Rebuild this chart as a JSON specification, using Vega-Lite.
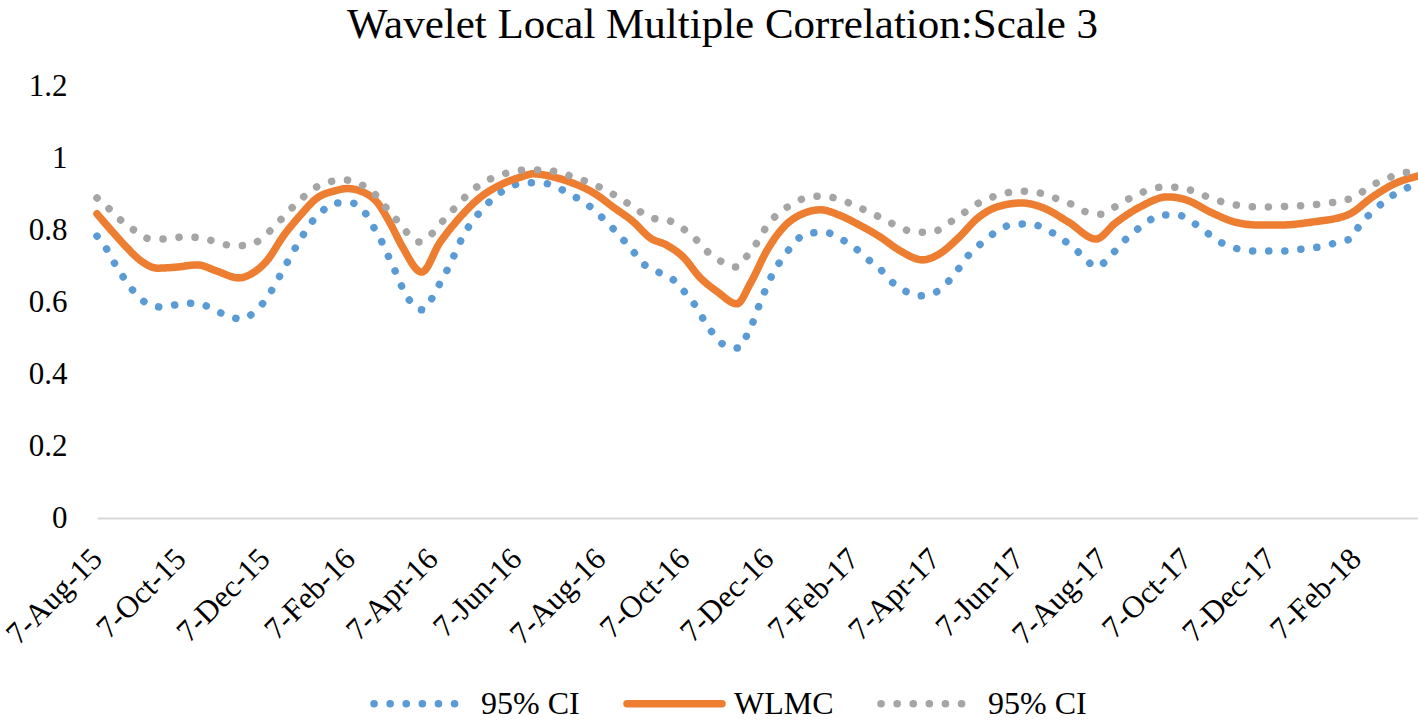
{
  "$schema": "https://vega.github.io/schema/vega-lite/v6.json",
  "autosize": {"type": "none"},
  "padding": {"left": 97, "top": 86, "right": 0, "bottom": 203},
  "width": 1321,
  "height": 432,
  "background": "white",
  "config": {
    "view": {"stroke": null},
    "font": "Liberation Serif"
  },
  "title": {
    "text": "Wavelet Local Multiple Correlation:Scale 3",
    "font": "Liberation Serif",
    "fontSize": 43,
    "fontWeight": "normal",
    "color": "#000000",
    "anchor": "middle",
    "baseline": "alphabetic",
    "offset": -11,
    "dx": -35
  },
  "data": {
    "values": [
      {"date": "2015-08-07", "series": "lower", "value": 0.783},
      {"date": "2015-08-14", "series": "lower", "value": 0.747},
      {"date": "2015-08-20", "series": "lower", "value": 0.706},
      {"date": "2015-08-27", "series": "lower", "value": 0.664},
      {"date": "2015-09-03", "series": "lower", "value": 0.628},
      {"date": "2015-09-12", "series": "lower", "value": 0.597},
      {"date": "2015-09-23", "series": "lower", "value": 0.586},
      {"date": "2015-10-06", "series": "lower", "value": 0.594},
      {"date": "2015-10-18", "series": "lower", "value": 0.597},
      {"date": "2015-10-29", "series": "lower", "value": 0.583},
      {"date": "2015-11-10", "series": "lower", "value": 0.561},
      {"date": "2015-11-20", "series": "lower", "value": 0.553},
      {"date": "2015-12-01", "series": "lower", "value": 0.578},
      {"date": "2015-12-09", "series": "lower", "value": 0.614},
      {"date": "2015-12-15", "series": "lower", "value": 0.653},
      {"date": "2015-12-21", "series": "lower", "value": 0.694},
      {"date": "2015-12-27", "series": "lower", "value": 0.736},
      {"date": "2016-01-02", "series": "lower", "value": 0.775},
      {"date": "2016-01-09", "series": "lower", "value": 0.817},
      {"date": "2016-01-17", "series": "lower", "value": 0.85},
      {"date": "2016-01-27", "series": "lower", "value": 0.875},
      {"date": "2016-02-08", "series": "lower", "value": 0.875},
      {"date": "2016-02-18", "series": "lower", "value": 0.847},
      {"date": "2016-02-24", "series": "lower", "value": 0.808},
      {"date": "2016-03-01", "series": "lower", "value": 0.767},
      {"date": "2016-03-06", "series": "lower", "value": 0.725},
      {"date": "2016-03-11", "series": "lower", "value": 0.683},
      {"date": "2016-03-16", "series": "lower", "value": 0.639},
      {"date": "2016-03-22", "series": "lower", "value": 0.6},
      {"date": "2016-03-31", "series": "lower", "value": 0.578},
      {"date": "2016-04-07", "series": "lower", "value": 0.614},
      {"date": "2016-04-13", "series": "lower", "value": 0.658},
      {"date": "2016-04-19", "series": "lower", "value": 0.7},
      {"date": "2016-04-24", "series": "lower", "value": 0.742},
      {"date": "2016-04-29", "series": "lower", "value": 0.783},
      {"date": "2016-05-06", "series": "lower", "value": 0.825},
      {"date": "2016-05-14", "series": "lower", "value": 0.861},
      {"date": "2016-05-22", "series": "lower", "value": 0.892},
      {"date": "2016-06-01", "series": "lower", "value": 0.917},
      {"date": "2016-06-12", "series": "lower", "value": 0.931},
      {"date": "2016-06-25", "series": "lower", "value": 0.931},
      {"date": "2016-07-06", "series": "lower", "value": 0.919},
      {"date": "2016-07-17", "series": "lower", "value": 0.897},
      {"date": "2016-07-28", "series": "lower", "value": 0.872},
      {"date": "2016-08-06", "series": "lower", "value": 0.842},
      {"date": "2016-08-15", "series": "lower", "value": 0.808},
      {"date": "2016-08-23", "series": "lower", "value": 0.775},
      {"date": "2016-08-31", "series": "lower", "value": 0.739},
      {"date": "2016-09-08", "series": "lower", "value": 0.703},
      {"date": "2016-09-18", "series": "lower", "value": 0.683},
      {"date": "2016-09-29", "series": "lower", "value": 0.661},
      {"date": "2016-10-07", "series": "lower", "value": 0.628},
      {"date": "2016-10-15", "series": "lower", "value": 0.589},
      {"date": "2016-10-21", "series": "lower", "value": 0.55},
      {"date": "2016-10-28", "series": "lower", "value": 0.511},
      {"date": "2016-11-06", "series": "lower", "value": 0.478},
      {"date": "2016-11-16", "series": "lower", "value": 0.472},
      {"date": "2016-11-22", "series": "lower", "value": 0.514},
      {"date": "2016-11-27", "series": "lower", "value": 0.556},
      {"date": "2016-12-01", "series": "lower", "value": 0.6},
      {"date": "2016-12-06", "series": "lower", "value": 0.644},
      {"date": "2016-12-11", "series": "lower", "value": 0.686},
      {"date": "2016-12-18", "series": "lower", "value": 0.725},
      {"date": "2016-12-25", "series": "lower", "value": 0.761},
      {"date": "2017-01-03", "series": "lower", "value": 0.789},
      {"date": "2017-01-17", "series": "lower", "value": 0.794},
      {"date": "2017-01-27", "series": "lower", "value": 0.778},
      {"date": "2017-02-07", "series": "lower", "value": 0.753},
      {"date": "2017-02-16", "series": "lower", "value": 0.722},
      {"date": "2017-02-26", "series": "lower", "value": 0.692},
      {"date": "2017-03-06", "series": "lower", "value": 0.658},
      {"date": "2017-03-16", "series": "lower", "value": 0.631},
      {"date": "2017-03-27", "series": "lower", "value": 0.617},
      {"date": "2017-04-08", "series": "lower", "value": 0.628},
      {"date": "2017-04-17", "series": "lower", "value": 0.658},
      {"date": "2017-04-25", "series": "lower", "value": 0.697},
      {"date": "2017-05-02", "series": "lower", "value": 0.733},
      {"date": "2017-05-11", "series": "lower", "value": 0.764},
      {"date": "2017-05-21", "series": "lower", "value": 0.794},
      {"date": "2017-06-01", "series": "lower", "value": 0.814},
      {"date": "2017-06-13", "series": "lower", "value": 0.817},
      {"date": "2017-06-25", "series": "lower", "value": 0.806},
      {"date": "2017-07-05", "series": "lower", "value": 0.783},
      {"date": "2017-07-15", "series": "lower", "value": 0.756},
      {"date": "2017-07-24", "series": "lower", "value": 0.725},
      {"date": "2017-08-02", "series": "lower", "value": 0.697},
      {"date": "2017-08-12", "series": "lower", "value": 0.725},
      {"date": "2017-08-20", "series": "lower", "value": 0.761},
      {"date": "2017-08-29", "series": "lower", "value": 0.792},
      {"date": "2017-09-08", "series": "lower", "value": 0.822},
      {"date": "2017-09-19", "series": "lower", "value": 0.842},
      {"date": "2017-09-30", "series": "lower", "value": 0.842},
      {"date": "2017-10-11", "series": "lower", "value": 0.822},
      {"date": "2017-10-21", "series": "lower", "value": 0.794},
      {"date": "2017-10-31", "series": "lower", "value": 0.767},
      {"date": "2017-11-11", "series": "lower", "value": 0.75},
      {"date": "2017-11-23", "series": "lower", "value": 0.742},
      {"date": "2017-12-05", "series": "lower", "value": 0.742},
      {"date": "2017-12-18", "series": "lower", "value": 0.742},
      {"date": "2017-12-30", "series": "lower", "value": 0.747},
      {"date": "2018-01-11", "series": "lower", "value": 0.753},
      {"date": "2018-01-23", "series": "lower", "value": 0.764},
      {"date": "2018-02-04", "series": "lower", "value": 0.778},
      {"date": "2018-02-10", "series": "lower", "value": 0.817},
      {"date": "2018-02-19", "series": "lower", "value": 0.85},
      {"date": "2018-02-28", "series": "lower", "value": 0.881},
      {"date": "2018-03-10", "series": "lower", "value": 0.906},
      {"date": "2018-03-24", "series": "lower", "value": 0.928},

      {"date": "2015-08-07", "series": "WLMC", "value": 0.845},
      {"date": "2015-08-19", "series": "WLMC", "value": 0.792},
      {"date": "2015-08-29", "series": "WLMC", "value": 0.75},
      {"date": "2015-09-07", "series": "WLMC", "value": 0.717},
      {"date": "2015-09-20", "series": "WLMC", "value": 0.694},
      {"date": "2015-10-04", "series": "WLMC", "value": 0.697},
      {"date": "2015-10-19", "series": "WLMC", "value": 0.703},
      {"date": "2015-11-02", "series": "WLMC", "value": 0.686},
      {"date": "2015-11-18", "series": "WLMC", "value": 0.667},
      {"date": "2015-11-28", "series": "WLMC", "value": 0.68},
      {"date": "2015-12-09", "series": "WLMC", "value": 0.717},
      {"date": "2015-12-20", "series": "WLMC", "value": 0.781},
      {"date": "2016-01-02", "series": "WLMC", "value": 0.842},
      {"date": "2016-01-14", "series": "WLMC", "value": 0.889},
      {"date": "2016-01-26", "series": "WLMC", "value": 0.908},
      {"date": "2016-02-05", "series": "WLMC", "value": 0.915},
      {"date": "2016-02-16", "series": "WLMC", "value": 0.906},
      {"date": "2016-02-27", "series": "WLMC", "value": 0.875},
      {"date": "2016-03-07", "series": "WLMC", "value": 0.819},
      {"date": "2016-03-16", "series": "WLMC", "value": 0.753},
      {"date": "2016-03-30", "series": "WLMC", "value": 0.683},
      {"date": "2016-04-12", "series": "WLMC", "value": 0.764},
      {"date": "2016-04-27", "series": "WLMC", "value": 0.836},
      {"date": "2016-05-11", "series": "WLMC", "value": 0.889},
      {"date": "2016-05-26", "series": "WLMC", "value": 0.925},
      {"date": "2016-06-10", "series": "WLMC", "value": 0.947},
      {"date": "2016-06-19", "series": "WLMC", "value": 0.956},
      {"date": "2016-07-04", "series": "WLMC", "value": 0.947},
      {"date": "2016-07-18", "series": "WLMC", "value": 0.93},
      {"date": "2016-08-02", "series": "WLMC", "value": 0.903},
      {"date": "2016-08-16", "series": "WLMC", "value": 0.864},
      {"date": "2016-08-31", "series": "WLMC", "value": 0.822},
      {"date": "2016-09-12", "series": "WLMC", "value": 0.778},
      {"date": "2016-09-24", "series": "WLMC", "value": 0.758},
      {"date": "2016-10-06", "series": "WLMC", "value": 0.725},
      {"date": "2016-10-18", "series": "WLMC", "value": 0.669},
      {"date": "2016-10-31", "series": "WLMC", "value": 0.628},
      {"date": "2016-11-14", "series": "WLMC", "value": 0.595},
      {"date": "2016-11-24", "series": "WLMC", "value": 0.653},
      {"date": "2016-12-06", "series": "WLMC", "value": 0.744},
      {"date": "2016-12-18", "series": "WLMC", "value": 0.808},
      {"date": "2016-12-30", "series": "WLMC", "value": 0.842},
      {"date": "2017-01-14", "series": "WLMC", "value": 0.856},
      {"date": "2017-01-27", "series": "WLMC", "value": 0.842},
      {"date": "2017-02-11", "series": "WLMC", "value": 0.814},
      {"date": "2017-02-26", "series": "WLMC", "value": 0.781},
      {"date": "2017-03-12", "series": "WLMC", "value": 0.744},
      {"date": "2017-03-29", "series": "WLMC", "value": 0.717},
      {"date": "2017-04-09", "series": "WLMC", "value": 0.731},
      {"date": "2017-04-24", "series": "WLMC", "value": 0.778},
      {"date": "2017-05-08", "series": "WLMC", "value": 0.833},
      {"date": "2017-05-22", "series": "WLMC", "value": 0.864},
      {"date": "2017-06-09", "series": "WLMC", "value": 0.875},
      {"date": "2017-06-25", "series": "WLMC", "value": 0.861},
      {"date": "2017-07-13", "series": "WLMC", "value": 0.822},
      {"date": "2017-08-02", "series": "WLMC", "value": 0.775},
      {"date": "2017-08-16", "series": "WLMC", "value": 0.819},
      {"date": "2017-09-03", "series": "WLMC", "value": 0.864},
      {"date": "2017-09-23", "series": "WLMC", "value": 0.892},
      {"date": "2017-10-07", "series": "WLMC", "value": 0.883},
      {"date": "2017-10-24", "series": "WLMC", "value": 0.85},
      {"date": "2017-11-11", "series": "WLMC", "value": 0.822},
      {"date": "2017-11-27", "series": "WLMC", "value": 0.814},
      {"date": "2017-12-15", "series": "WLMC", "value": 0.814},
      {"date": "2018-01-06", "series": "WLMC", "value": 0.822},
      {"date": "2018-02-01", "series": "WLMC", "value": 0.842},
      {"date": "2018-02-19", "series": "WLMC", "value": 0.892},
      {"date": "2018-03-05", "series": "WLMC", "value": 0.925},
      {"date": "2018-03-24", "series": "WLMC", "value": 0.95},

      {"date": "2015-08-07", "series": "upper", "value": 0.889},
      {"date": "2015-08-16", "series": "upper", "value": 0.858},
      {"date": "2015-08-25", "series": "upper", "value": 0.825},
      {"date": "2015-09-04", "series": "upper", "value": 0.797},
      {"date": "2015-09-15", "series": "upper", "value": 0.775},
      {"date": "2015-09-27", "series": "upper", "value": 0.775},
      {"date": "2015-10-09", "series": "upper", "value": 0.781},
      {"date": "2015-10-21", "series": "upper", "value": 0.778},
      {"date": "2015-11-02", "series": "upper", "value": 0.767},
      {"date": "2015-11-14", "series": "upper", "value": 0.756},
      {"date": "2015-11-26", "series": "upper", "value": 0.758},
      {"date": "2015-12-06", "series": "upper", "value": 0.781},
      {"date": "2015-12-15", "series": "upper", "value": 0.814},
      {"date": "2015-12-23", "series": "upper", "value": 0.847},
      {"date": "2016-01-01", "series": "upper", "value": 0.881},
      {"date": "2016-01-10", "series": "upper", "value": 0.911},
      {"date": "2016-01-22", "series": "upper", "value": 0.933},
      {"date": "2016-02-03", "series": "upper", "value": 0.939},
      {"date": "2016-02-14", "series": "upper", "value": 0.928},
      {"date": "2016-02-24", "series": "upper", "value": 0.903},
      {"date": "2016-03-03", "series": "upper", "value": 0.867},
      {"date": "2016-03-11", "series": "upper", "value": 0.831},
      {"date": "2016-03-19", "series": "upper", "value": 0.794},
      {"date": "2016-03-28", "series": "upper", "value": 0.767},
      {"date": "2016-04-07", "series": "upper", "value": 0.792},
      {"date": "2016-04-15", "series": "upper", "value": 0.828},
      {"date": "2016-04-23", "series": "upper", "value": 0.861},
      {"date": "2016-05-02", "series": "upper", "value": 0.897},
      {"date": "2016-05-11", "series": "upper", "value": 0.925},
      {"date": "2016-05-22", "series": "upper", "value": 0.947},
      {"date": "2016-06-03", "series": "upper", "value": 0.961},
      {"date": "2016-06-15", "series": "upper", "value": 0.967},
      {"date": "2016-06-27", "series": "upper", "value": 0.967},
      {"date": "2016-07-09", "series": "upper", "value": 0.958},
      {"date": "2016-07-21", "series": "upper", "value": 0.944},
      {"date": "2016-08-01", "series": "upper", "value": 0.928},
      {"date": "2016-08-12", "series": "upper", "value": 0.908},
      {"date": "2016-08-23", "series": "upper", "value": 0.883},
      {"date": "2016-09-02", "series": "upper", "value": 0.858},
      {"date": "2016-09-13", "series": "upper", "value": 0.833},
      {"date": "2016-09-24", "series": "upper", "value": 0.828},
      {"date": "2016-10-05", "series": "upper", "value": 0.806},
      {"date": "2016-10-15", "series": "upper", "value": 0.775},
      {"date": "2016-10-23", "series": "upper", "value": 0.742},
      {"date": "2016-11-02", "series": "upper", "value": 0.714},
      {"date": "2016-11-14", "series": "upper", "value": 0.697},
      {"date": "2016-11-22", "series": "upper", "value": 0.731},
      {"date": "2016-11-29", "series": "upper", "value": 0.767},
      {"date": "2016-12-05", "series": "upper", "value": 0.806},
      {"date": "2016-12-13", "series": "upper", "value": 0.842},
      {"date": "2016-12-23", "series": "upper", "value": 0.869},
      {"date": "2017-01-03", "series": "upper", "value": 0.889},
      {"date": "2017-01-15", "series": "upper", "value": 0.894},
      {"date": "2017-01-27", "series": "upper", "value": 0.886},
      {"date": "2017-02-07", "series": "upper", "value": 0.869},
      {"date": "2017-02-18", "series": "upper", "value": 0.85},
      {"date": "2017-03-01", "series": "upper", "value": 0.83},
      {"date": "2017-03-12", "series": "upper", "value": 0.808},
      {"date": "2017-03-24", "series": "upper", "value": 0.794},
      {"date": "2017-04-05", "series": "upper", "value": 0.794},
      {"date": "2017-04-16", "series": "upper", "value": 0.817},
      {"date": "2017-04-26", "series": "upper", "value": 0.842},
      {"date": "2017-05-06", "series": "upper", "value": 0.869},
      {"date": "2017-05-17", "series": "upper", "value": 0.889},
      {"date": "2017-05-29", "series": "upper", "value": 0.903},
      {"date": "2017-06-09", "series": "upper", "value": 0.908},
      {"date": "2017-06-22", "series": "upper", "value": 0.903},
      {"date": "2017-07-03", "series": "upper", "value": 0.889},
      {"date": "2017-07-15", "series": "upper", "value": 0.872},
      {"date": "2017-07-26", "series": "upper", "value": 0.85},
      {"date": "2017-08-06", "series": "upper", "value": 0.844},
      {"date": "2017-08-17", "series": "upper", "value": 0.867},
      {"date": "2017-08-27", "series": "upper", "value": 0.889},
      {"date": "2017-09-07", "series": "upper", "value": 0.908},
      {"date": "2017-09-19", "series": "upper", "value": 0.919},
      {"date": "2017-10-01", "series": "upper", "value": 0.919},
      {"date": "2017-10-13", "series": "upper", "value": 0.906},
      {"date": "2017-10-24", "series": "upper", "value": 0.889},
      {"date": "2017-11-05", "series": "upper", "value": 0.875},
      {"date": "2017-11-16", "series": "upper", "value": 0.867},
      {"date": "2017-11-29", "series": "upper", "value": 0.864},
      {"date": "2017-12-11", "series": "upper", "value": 0.864},
      {"date": "2017-12-24", "series": "upper", "value": 0.867},
      {"date": "2018-01-05", "series": "upper", "value": 0.869},
      {"date": "2018-01-17", "series": "upper", "value": 0.875},
      {"date": "2018-01-29", "series": "upper", "value": 0.881},
      {"date": "2018-02-09", "series": "upper", "value": 0.9},
      {"date": "2018-02-19", "series": "upper", "value": 0.925},
      {"date": "2018-03-02", "series": "upper", "value": 0.944},
      {"date": "2018-03-13", "series": "upper", "value": 0.958},
      {"date": "2018-03-24", "series": "upper", "value": 0.962}
    ]
  },
  "mark": {"type": "line", "interpolate": "monotone", "strokeWidth": 7.5, "strokeCap": "round", "strokeJoin": "round", "clip": false},
  "encoding": {
    "x": {
      "field": "date",
      "type": "temporal",
      "scale": {"domain": ["2015-08-07T00:00:00", "2018-03-24T00:00:00"]},
      "axis": {
        "title": null,
        "values": ["2015-08-07T00:00:00", "2015-10-07T00:00:00", "2015-12-07T00:00:00", "2016-02-07T00:00:00", "2016-04-07T00:00:00", "2016-06-07T00:00:00", "2016-08-07T00:00:00", "2016-10-07T00:00:00", "2016-12-07T00:00:00", "2017-02-07T00:00:00", "2017-04-07T00:00:00", "2017-06-07T00:00:00", "2017-08-07T00:00:00", "2017-10-07T00:00:00", "2017-12-07T00:00:00", "2018-02-07T00:00:00"],
        "format": "%-d-%b-%y",
        "labelAngle": -45,
        "labelAlign": "right",
        "labelBaseline": "middle",
        "labelFont": "Liberation Serif",
        "labelFontSize": 31,
        "labelColor": "#000000",
        "labelPadding": 36,
        "labelOverlap": false,
        "labelBound": false,
        "labelFlush": false,
        "ticks": false,
        "tickSize": 0,
        "grid": false,
        "domainColor": "#D9D9D9",
        "domainWidth": 2
      }
    },
    "y": {
      "field": "value",
      "type": "quantitative",
      "scale": {"domain": [0, 1.2], "nice": false},
      "axis": {
        "title": null,
        "values": [0, 0.2, 0.4, 0.6, 0.8, 1, 1.2],
        "format": "~g",
        "labelFont": "Liberation Serif",
        "labelFontSize": 31,
        "labelColor": "#000000",
        "labelPadding": 30,
        "ticks": false,
        "tickSize": 0,
        "domain": false,
        "grid": false
      }
    },
    "color": {
      "field": "series",
      "type": "nominal",
      "scale": {"domain": ["lower", "WLMC", "upper"], "range": ["#5B9BD5", "#ED7D31", "#A5A5A5"]},
      "legend": {
        "title": null,
        "orient": "none",
        "direction": "horizontal",
        "legendX": 273,
        "legendY": 566,
        "padding": 0,
        "labelExpr": "datum.value == 'WLMC' ? 'WLMC' : '95% CI'",
        "labelFont": "Liberation Serif",
        "labelFontSize": 32,
        "labelColor": "#000000",
        "labelOffset": 8,
        "columnPadding": 32,
        "symbolType": "stroke",
        "symbolSize": 9025,
        "symbolStrokeWidth": 7.5,
        "encode": {"symbols": {"update": {"strokeCap": {"value": "round"}}}}
      }
    },
    "strokeDash": {
      "field": "series",
      "type": "nominal",
      "scale": {"domain": ["lower", "WLMC", "upper"], "range": [[0.1, 16], [1, 0], [0.1, 16]]},
      "legend": null
    },
    "order": {"field": "date", "type": "temporal"}
  }
}
